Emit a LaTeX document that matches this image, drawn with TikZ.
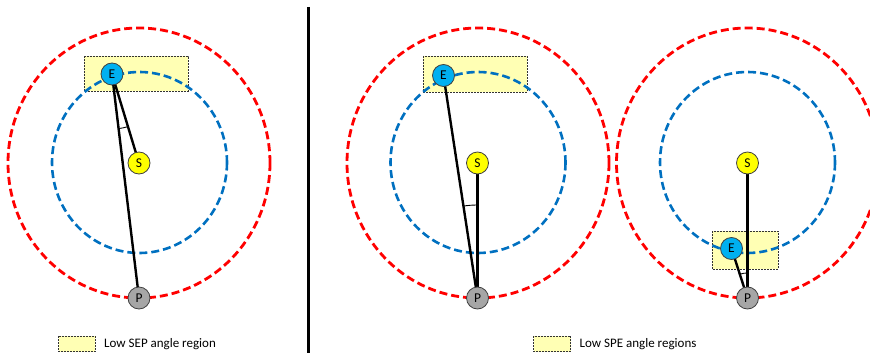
\documentclass[tikz,border=0pt]{standalone}
\usepackage{fontspec}
\setmainfont{Carlito}
\usetikzlibrary{angles}
\definecolor{orbred}{RGB}{255,0,0}
\definecolor{orbblue}{RGB}{0,112,192}
\definecolor{efill}{RGB}{0,176,240}
\definecolor{sfill}{RGB}{255,255,0}
\definecolor{pfill}{RGB}{166,166,166}
\definecolor{regfill}{RGB}{255,255,180}
\definecolor{bodyedge}{RGB}{64,64,64}
\tikzset{
  body/.style={circle, draw=bodyedge, line width=0.8pt, minimum size=22pt, inner sep=0pt, font=\fontsize{13.5}{13.5}\selectfont},
  outerorbit/.style={draw=orbred, line width=2.8pt, dash pattern=on 8pt off 4pt},
  innerorbit/.style={draw=orbblue, line width=2.6pt, dash pattern=on 8pt off 4pt},
  region/.style={fill=regfill, draw=black!80, line width=0.6pt, dash pattern=on 2pt off 1pt},
  link/.style={draw=black, line width=2.4pt},
  anglemark/.style={draw=black, line width=0.9pt},
  legendtext/.style={anchor=west, inner sep=0pt, font=\fontsize{13}{13}\selectfont}
}
\begin{document}
\begin{tikzpicture}[x=1pt,y=-1pt]
\useasboundingbox (0,0) rectangle (870,353);
% regions (behind)
\path[region] (84,56) rectangle (188,91);
\path[region] (423,56) rectangle (527,92);
\path[region] (712,231) rectangle (778,269);
% orbits
\draw[outerorbit] (139,163) ellipse [x radius=131, y radius=135];
\draw[innerorbit] (139.5,162.5) ellipse [x radius=87.5, y radius=90.5];
\draw[outerorbit] (478,163) ellipse [x radius=131, y radius=135];
\draw[innerorbit] (478,162.5) ellipse [x radius=87.5, y radius=90.5];
\draw[outerorbit] (747.5,163) ellipse [x radius=131, y radius=135];
\draw[innerorbit] (747.5,162.5) ellipse [x radius=87.5, y radius=90.5];
% coordinates of bodies
\coordinate (E1) at (112,74);
\coordinate (S1) at (139,163);
\coordinate (P1) at (139,298);
\coordinate (E2) at (443.5,75.5);
\coordinate (S2) at (477.5,163);
\coordinate (P2) at (477.5,298);
\coordinate (E3) at (731.5,248.5);
\coordinate (S3) at (747.5,163);
\coordinate (P3) at (747.5,298);
% links
\draw[link] (E1) -- (S1);
\draw[link] (E1) -- (P1);
\draw[link] (P2) -- (S2);
\draw[link] (P2) -- (E2);
\draw[link] (P3) -- (S3);
\draw[link] (P3) -- (E3);
% angle marks
\pic[anglemark, angle radius=55pt] {angle = P1--E1--S1};
\pic[anglemark, angle radius=93pt] {angle = S2--P2--E2};
\pic[anglemark, angle radius=25pt] {angle = S3--P3--E3};
% bodies
\node[body, fill=efill] (e1) at (E1) {E};
\node[body, fill=sfill] (s1) at (S1) {S};
\node[body, fill=pfill] (p1) at (P1) {P};
\node[body, fill=efill] (e2) at (E2) {E};
\node[body, fill=sfill] (s2) at (S2) {S};
\node[body, fill=pfill] (p2) at (P2) {P};
\node[body, fill=efill] (e3) at (E3) {E};
\node[body, fill=sfill] (s3) at (S3) {S};
\node[body, fill=pfill] (p3) at (P3) {P};
% divider
\coordinate (dtop) at (308.5,7);
\coordinate (dbot) at (308.5,353);
\draw[black, line width=3pt] (dtop) -- (dbot);
% legends
\path[region] (58.5,336) rectangle (95,351.5);
\node[legendtext] (l1) at (104,344) {Low SEP angle region};
\path[region] (533.5,336) rectangle (570.5,351.5);
\node[legendtext] (l2) at (579.5,344) {Low SPE angle regions};
\end{tikzpicture}
\end{document}
